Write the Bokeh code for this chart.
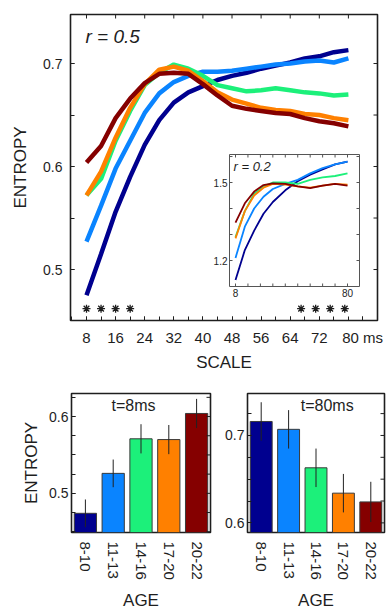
from bokeh.plotting import figure
from bokeh.models import Range1d, FactorRange, FixedTicker, Label
from bokeh.layouts import column, row
from bokeh.embed import file_html
from bokeh.resources import INLINE

FONT = "Liberation Sans"
INK = "#1e1e1e"

# ---------------- data ----------------
ages = ["8-10", "11-13", "14-16", "17-20", "20-22"]
colors = ["#00008F", "#0A84FF", "#1CF07A", "#FF8000", "#850000"]

scales = [8, 12, 16, 20, 24, 28, 32, 36, 40, 44, 48, 52, 56, 60, 64, 68, 72, 76, 80]
ent_8_10 = [0.475, 0.515, 0.556, 0.590, 0.621, 0.645, 0.662, 0.672, 0.678, 0.684,
            0.688, 0.691, 0.695, 0.698, 0.701, 0.705, 0.707, 0.711, 0.713]
ent_11_13 = [0.527, 0.562, 0.598, 0.625, 0.652, 0.671, 0.682, 0.688, 0.692, 0.692,
             0.693, 0.695, 0.697, 0.699, 0.700, 0.702, 0.703, 0.701, 0.705]
ent_14_16 = [0.572, 0.588, 0.625, 0.654, 0.679, 0.691, 0.699, 0.695, 0.688, 0.679,
             0.676, 0.673, 0.674, 0.676, 0.674, 0.672, 0.671, 0.669, 0.670]
ent_17_20 = [0.572, 0.595, 0.628, 0.657, 0.680, 0.694, 0.697, 0.693, 0.683, 0.672,
             0.665, 0.661, 0.657, 0.655, 0.654, 0.651, 0.650, 0.647, 0.645]
ent_20_22 = [0.604, 0.620, 0.647, 0.666, 0.681, 0.690, 0.691, 0.690, 0.680, 0.669,
             0.659, 0.656, 0.654, 0.652, 0.651, 0.647, 0.644, 0.642, 0.639]

# inset (r = 0.2)
inset_scales = [8, 14, 20, 26, 32, 40, 48, 56, 64, 72, 80]
r2_8_10 = [1.125, 1.240, 1.315, 1.380, 1.425, 1.470, 1.505, 1.530, 1.550, 1.570, 1.580]
r2_11_13 = [1.210, 1.330, 1.400, 1.445, 1.475, 1.495, 1.510, 1.535, 1.555, 1.570, 1.580]
r2_14_16 = [1.290, 1.390, 1.457, 1.485, 1.500, 1.500, 1.495, 1.510, 1.520, 1.525, 1.535]
r2_17_20 = [1.285, 1.390, 1.450, 1.480, 1.495, 1.492, 1.485, 1.480, 1.488, 1.495, 1.492]
r2_20_22 = [1.346, 1.420, 1.465, 1.490, 1.497, 1.495, 1.485, 1.478, 1.488, 1.495, 1.488]

sig_scales = [8, 12, 16, 20, 67, 71, 75, 79]

x_ticks = [8, 16, 24, 32, 40, 48, 56, 64, 72, 80]
x_tick_labels = ["8", "16", "24", "32", "40", "48", "56", "64", "72", "80 ms"]
y_ticks = [0.5, 0.6, 0.7]
y_minor = [0.5, 0.55, 0.6, 0.65, 0.7]

# bars
ent_t8 = [0.474, 0.526, 0.571, 0.570, 0.604]
err_t8 = [0.018, 0.018, 0.019, 0.019, 0.019]
ent_t80 = [0.716, 0.707, 0.663, 0.634, 0.624]
err_t80 = [0.022, 0.022, 0.022, 0.022, 0.023]

main_series = [ent_8_10, ent_11_13, ent_14_16, ent_17_20, ent_20_22]
inset_series = [r2_8_10, r2_11_13, r2_14_16, r2_17_20, r2_20_22]


def style_axis(ax, size="14px"):
    ax.axis_line_color = None
    ax.major_tick_in = 4
    ax.major_tick_out = 0
    ax.minor_tick_in = 4
    ax.minor_tick_out = 0
    ax.major_tick_line_color = INK
    ax.minor_tick_line_color = INK
    ax.major_label_text_font = FONT
    ax.major_label_text_font_size = size
    ax.major_label_text_color = INK
    ax.axis_label_text_font = FONT
    ax.axis_label_text_font_style = "normal"
    ax.axis_label_text_color = INK


# ---------------- main panel ----------------
FW, FH = 307, 306
XR = (3.6, 88.0)
YR = (0.4505, 0.7476)
p = figure(frame_width=FW, frame_height=FH,
           x_range=Range1d(*XR), y_range=Range1d(*YR),
           min_border_left=70, min_border_right=9, min_border_top=14, min_border_bottom=58,
           output_backend="svg", toolbar_location=None)
p.grid.visible = False
p.outline_line_color = INK
p.outline_line_width = 1.6

# the "80 ms" label is centred to the right of its tick so that "80" sits under 80
label_shift = 3.9
shown_ticks = x_ticks[:-1] + [x_ticks[-1] + label_shift]
p.xaxis.ticker = FixedTicker(ticks=shown_ticks, minor_ticks=list(range(4, 88, 4)))
p.xaxis.major_label_overrides = {t: s for t, s in zip(shown_ticks, x_tick_labels)}
p.yaxis.ticker = FixedTicker(ticks=y_ticks, minor_ticks=y_minor)
for ax in p.xaxis + p.yaxis:
    style_axis(ax, "15px")
p.yaxis.major_label_text_font_size = "14px"
p.xaxis.major_label_standoff = 8
p.yaxis.major_label_standoff = 8
p.xaxis.axis_label = "SCALE"
p.yaxis.axis_label = "ENTROPY"
p.xaxis.axis_label_text_font_size = "17px"
p.yaxis.axis_label_text_font_size = "17px"
p.xaxis.axis_label_standoff = 4
p.yaxis.axis_label_standoff = 10

# top and right inward ticks
kx_main = FW / (XR[1] - XR[0])
ky_main = FH / (YR[1] - YR[0])
p.segment(x0=x_ticks, y0=[YR[1]] * len(x_ticks), x1=x_ticks,
          y1=[YR[1] - 4 / ky_main] * len(x_ticks), line_color=INK, line_width=1)
p.segment(x0=[XR[1]] * len(y_minor), y0=y_minor, x1=[XR[1] - 4 / kx_main] * len(y_minor),
          y1=y_minor, line_color=INK, line_width=1)

for vals, c in zip(main_series, colors):
    p.line(scales, vals, line_color=c, line_width=4.5)

p.scatter(sig_scales, [0.462] * len(sig_scales), marker="asterisk", size=8,
          line_color=INK, line_width=1.3)

p.add_layout(Label(x=7.7, y=0.726, text="r = 0.5", text_font=FONT, text_font_size="19px",
                   text_font_style="italic", text_baseline="middle", text_color=INK))

# ---------------- inset (own scales mapped into the main frame) ----------------
ix0, ix1, iy0, iy1 = 4.14, 87.71, 1.10, 1.6077          # inset data extents
il, ir, it, ib = 159, 289, 140, 272                       # inset frame in main-frame px
kx = (ir - il) / (ix1 - ix0)
ky = (ib - it) / (iy1 - iy0)
xs = ix0 - il / kx
ys = iy0 - (FH - ib) / ky
p.extra_x_ranges = {"inset": Range1d(xs, xs + FW / kx)}
p.extra_y_ranges = {"inset": Range1d(ys, ys + FH / ky)}
IN = dict(x_range_name="inset", y_range_name="inset")

p.quad(left=[ix0], right=[ix1], bottom=[iy0], top=[iy1], fill_color="white",
       line_color="#555555", line_width=1, **IN)
tx = list(range(8, 88, 8))
tl = 3 / kx
ty = 3 / ky
p.segment(x0=tx, y0=[iy1] * len(tx), x1=tx, y1=[iy1 - ty] * len(tx), line_color="#555555", line_width=1, **IN)
p.segment(x0=tx, y0=[iy0] * len(tx), x1=tx, y1=[iy0 + ty] * len(tx), line_color="#555555", line_width=1, **IN)
yt = [1.2, 1.3, 1.4, 1.5, 1.6]
p.segment(x0=[ix0] * len(yt), y0=yt, x1=[ix0 + tl] * len(yt), y1=yt, line_color="#555555", line_width=1, **IN)
p.segment(x0=[ix1] * len(yt), y0=yt, x1=[ix1 - tl] * len(yt), y1=yt, line_color="#555555", line_width=1, **IN)

for vals, c in zip(inset_series, colors):
    p.line(inset_scales, vals, line_color=c, line_width=1.8, **IN)

for txt, yv in (("1.5", 1.5), ("1.2", 1.2)):
    p.add_layout(Label(x=ix0 - 2 / kx, y=yv, text=txt, text_font=FONT, text_font_size="10px",
                       text_align="right", text_baseline="middle", text_color=INK, **IN))
for txt, xv in (("8", 8), ("80", 80)):
    p.add_layout(Label(x=xv, y=iy0 - 2 / ky, text=txt, text_font=FONT, text_font_size="10px",
                       text_align="center", text_baseline="top", text_color=INK, **IN))
p.add_layout(Label(x=6.7, y=1.5615, text="r = 0.2", text_font=FONT, text_font_size="13px",
                   text_font_style="italic", text_baseline="middle", text_color=INK, **IN))


# ---------------- bar panels ----------------
def bar_panel(vals, errs, yr, majors, minors, title, tx, ty, left_border, right_border,
              fw, ylabel):
    b = figure(x_range=FactorRange(*ages), y_range=Range1d(*yr),
               frame_width=fw, frame_height=139,
               min_border_left=left_border, min_border_right=right_border,
               min_border_top=15, min_border_bottom=74,
               output_backend="svg", toolbar_location=None)
    b.grid.visible = False
    b.outline_line_color = INK
    b.outline_line_width = 1.6
    b.vbar(x=ages, top=vals, bottom=yr[0] - 0.05, width=0.8, fill_color=colors,
           line_color="#3a3a3a", line_width=1)
    lo = [v - e for v, e in zip(vals, errs)]
    hi = [v + e for v, e in zip(vals, errs)]
    b.segment(x0=ages, y0=lo, x1=ages, y1=hi, line_color="#222222", line_width=1)
    b.yaxis.ticker = FixedTicker(ticks=majors, minor_ticks=minors)
    for ax in b.xaxis + b.yaxis:
        style_axis(ax, "15px")
    b.yaxis.major_label_standoff = 3
    b.yaxis.major_label_text_font_size = "14px"
    b.xaxis.major_tick_line_color = None
    b.xaxis.minor_tick_line_color = None
    b.xaxis.major_label_orientation = "vertical"
    b.xaxis.major_label_standoff = 9
    b.xaxis.axis_label = "AGE"
    b.xaxis.axis_label_text_font_size = "17px"
    b.xaxis.axis_label_standoff = 8
    if ylabel:
        b.yaxis.axis_label = ylabel
        b.yaxis.axis_label_text_font_size = "17px"
        b.yaxis.axis_label_standoff = 5
    # inward ticks on the right edge (x in factor-range units: 5 factors wide)
    k = fw / len(ages)
    b.segment(x0=[len(ages)] * len(minors), y0=minors, x1=[len(ages) - 4 / k] * len(minors),
              y1=minors, line_color=INK, line_width=1)
    b.add_layout(Label(x=tx, y=ty, text=title, text_font=FONT, text_font_size="16px",
                       text_align="center", text_baseline="middle", text_color=INK))
    return b


b1 = bar_panel(ent_t8, err_t8, (0.449, 0.630), [0.5, 0.6],
               [0.45, 0.475, 0.5, 0.525, 0.55, 0.575, 0.6, 0.625],
               "t=8ms", 2.23, 0.6143, 71, 5, 139, "ENTROPY")
b2 = bar_panel(ent_t80, err_t80, (0.589, 0.748), [0.6, 0.7],
               [0.6, 0.625, 0.65, 0.675, 0.7, 0.725],
               "t=80ms", 2.91, 0.7345, 32, 2, 137, None)

layout = column(p, row(b1, b2))
open("out.html", "w").write(file_html(layout, INLINE))
